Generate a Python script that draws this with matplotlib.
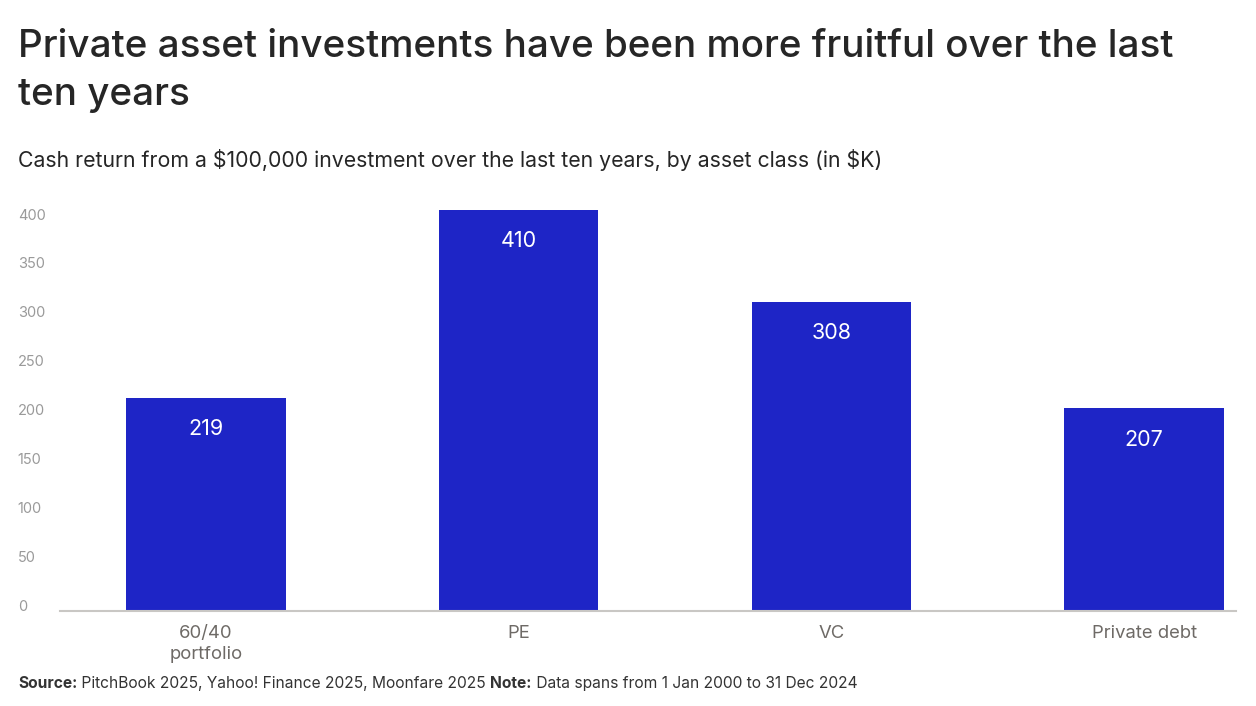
import matplotlib
matplotlib.use("Agg")
import matplotlib.pyplot as plt
import numpy as np

# data
categories = ["60/40\nportfolio", "PE", "VC", "Private debt"]
bar_heights = [218, 410, 316, 207]   # heights as drawn
bar_labels = ["219", "410", "308", "207"]  # printed labels
y_ticks = [0, 50, 100, 150, 200, 250, 300, 350, 400]

title = "Private asset investments have been more fruitful over the last\nten years"
subtitle = "Cash return from a \\$100,000 investment over the last ten years, by asset class (in \\$K)"

plt.rcParams['font.family'] = ['Inter', 'DejaVu Sans']

bar_color = '#1e25c6'

fig = plt.figure(figsize=(12.56, 7.06), dpi=100)
ax = fig.add_axes([60/1256, 1 - 611/706, (1236 - 60)/1256, (611 - 200)/706])

x = np.arange(len(categories))
ax.bar(x, bar_heights, width=0.51, color=bar_color)

for xi, h, lab in zip(x, bar_heights, bar_labels):
    ax.annotate(lab, xy=(xi, h), xytext=(0, -22.5), textcoords='offset points',
                ha='center', va='center', color='white', fontsize=15.5)

ax.set_xlim(-0.467, 3.294)
ax.set_ylim(0, 420)
ax.set_yticks(y_ticks)
ax.set_yticklabels([str(t) for t in y_ticks])
ax.set_xticks(x)
ax.set_xticklabels(categories)

ax.tick_params(axis='y', length=0, pad=30.5, labelsize=10.5, labelcolor='#9a9a9a')
for lab in ax.get_yticklabels():
    lab.set_ha('left')
    lab.set_va('baseline')
ax.tick_params(axis='x', length=0, pad=10, labelsize=13.3, labelcolor='#6e6a66')
for lab in ax.get_xticklabels():
    lab.set_linespacing(1.3)

for s in ['top', 'right', 'left']:
    ax.spines[s].set_visible(False)
ax.spines['bottom'].set_color('#c9c7c4')
ax.spines['bottom'].set_linewidth(1.5)

fig.text(18/1256, 1 - 29/706, title, ha='left', va='top', fontsize=27.8,
         fontweight='medium', color='#262626', linespacing=1.42)
fig.text(18/1256, 1 - 160/706, subtitle, ha='left', va='center', fontsize=15.3,
         color='#262626')

# footer with bold labels, chained one after another
parts = [("Source:", 'bold'), (" PitchBook 2025, Yahoo! Finance 2025, Moonfare 2025 ", 'normal'),
         ("Note:", 'bold'), (" Data spans from 1 Jan 2000 to 31 Dec 2024", 'normal')]
foot_y = 1 - 688/706
footer = []
for txt, w in parts:
    footer.append(fig.text(18/1256, foot_y, txt, fontsize=11.2, fontweight=w,
                           color='#333333', ha='left', va='baseline'))
fig.canvas.draw()
renderer = fig.canvas.get_renderer()
xpos = footer[0].get_window_extent(renderer).x1
for t in footer[1:]:
    t.set_position((xpos / fig.bbox.width, foot_y))
    xpos = t.get_window_extent(renderer).x1

fig.savefig("out.png", dpi=100)
